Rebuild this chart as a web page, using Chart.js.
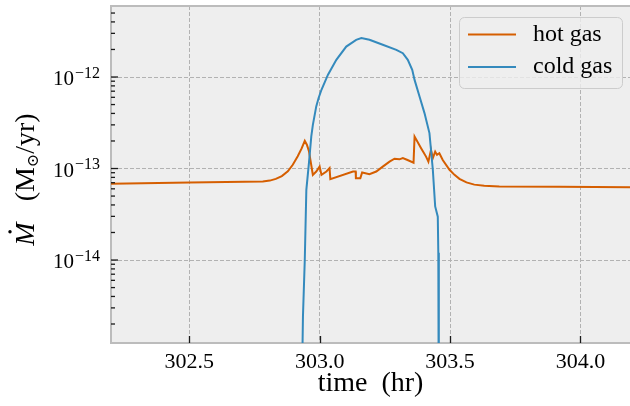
<!DOCTYPE html>
<html>
<head>
<meta charset="utf-8">
<script src="https://cdn.jsdelivr.net/npm/chart.js@4.4.1/dist/chart.umd.min.js"></script>
<style>
  html, body { margin: 0; padding: 0; background: #fff; overflow: hidden; }
</style>
</head>
<body>
<canvas id="chart" width="630" height="406"></canvas>
<script>
// ===== DATA =====
const seriesNames = ['hot gas', 'cold gas']

const hotTime = [302.200, 302.502, 302.782, 302.809, 302.832, 302.855, 302.878, 302.897, 302.916, 302.931,
  302.943, 302.951, 302.959, 302.974, 302.987, 303.000, 303.007, 303.026, 303.038, 303.041,
  303.128, 303.138, 303.139, 303.156, 303.163, 303.191, 303.217, 303.242, 303.268, 303.287,
  303.306, 303.319, 303.337, 303.360, 303.364, 303.389, 303.408, 303.417, 303.427, 303.434,
  303.443, 303.450, 303.459, 303.472, 303.498, 303.517, 303.536, 303.563, 303.593, 303.631,
  303.689, 303.918, 304.190]
const hotRate = [6.81e-14, 7.03e-14, 7.21e-14, 7.38e-14, 7.71e-14, 8.26e-14, 9.31e-14, 1.10e-13, 1.36e-13, 1.66e-13,
  2.01e-13, 1.82e-13, 1.55e-13, 8.53e-14, 9.27e-14, 1.05e-13, 8.53e-14, 9.27e-14, 1.01e-13, 7.66e-14,
  9.27e-14, 9.27e-14, 7.85e-14, 7.85e-14, 9.04e-14, 8.69e-14, 9.27e-14, 1.05e-13, 1.19e-13, 1.28e-13,
  1.26e-13, 1.30e-13, 1.24e-13, 1.16e-13, 2.24e-13, 1.67e-13, 1.35e-13, 1.19e-13, 1.60e-13, 1.30e-13,
  1.53e-13, 1.41e-13, 1.47e-13, 1.24e-13, 9.68e-14, 8.53e-14, 7.71e-14, 7.06e-14, 6.67e-14, 6.47e-14,
  6.35e-14, 6.31e-14, 6.24e-14]

const coldTime = [302.929, 302.936, 302.943, 302.949, 302.959, 302.968, 302.974, 302.987, 302.996, 303.007,
  303.032, 303.064, 303.102, 303.140, 303.160, 303.191, 303.242, 303.294, 303.319, 303.338,
  303.355, 303.364, 303.383, 303.402, 303.421, 303.434, 303.443, 303.453, 303.455, 303.457]
const coldRate = [1e-16, 2.41e-15, 1.0e-14, 5.85e-14, 1.15e-13, 2.24e-13, 3.0e-13, 4.77e-13, 5.9e-13, 7.25e-13,
  1.06e-12, 1.54e-12, 2.15e-12, 2.55e-12, 2.66e-12, 2.55e-12, 2.25e-12, 1.98e-12, 1.82e-12, 1.54e-12,
  1.20e-12, 9.3e-13, 6.12e-13, 4.03e-13, 2.44e-13, 9.7e-14, 3.85e-14, 2.98e-14, 1.2e-14, 1e-16]

const xTicks = [302.5, 303.0, 303.5, 304.0]
const yDecades = [-14, -13, -12]
const xRange = [302.2, 304.19]
const yRange = [1.24e-15, 5.97e-12]

// ===== STYLE =====
const C = {
  hot: '#D55E00',
  cold: '#348ABD',
  face: '#EEEEEE',
  edge: '#BCBCBC',
  grid: '#B2B2B2',
  tick: '#1a1a1a',
  text: '#000000',
}
const SERIF = '"Liberation Serif", "DejaVu Serif", serif'

const toXY = (xs, ys) => xs.map((x, i) => ({ x, y: ys[i] }))

// plot face + top spine
const facePlugin = {
  id: 'face',
  beforeDraw(chart) {
    const { ctx, chartArea: a } = chart
    ctx.save()
    ctx.fillStyle = C.face
    ctx.fillRect(a.left, a.top, a.right - a.left, a.bottom - a.top)
    ctx.restore()
  },
  afterDatasetsDraw(chart) {
    const { ctx, chartArea: a } = chart
    ctx.save()
    ctx.strokeStyle = C.edge
    ctx.lineWidth = 2
    ctx.beginPath()
    ctx.moveTo(a.left - 1, a.top)
    ctx.lineTo(a.right, a.top)
    ctx.stroke()
    ctx.restore()
  }
}

// inward ticks, y tick labels (10^n), y title, legend
const decorPlugin = {
  id: 'decor',
  afterDraw(chart) {
    const { ctx, chartArea: a, scales: { x, y } } = chart
    ctx.save()
    ctx.strokeStyle = C.tick
    ctx.lineWidth = 1.3
    // x major ticks
    xTicks.forEach(v => {
      const px = Math.round(x.getPixelForValue(v)) + 0.5
      ctx.beginPath(); ctx.moveTo(px, a.bottom); ctx.lineTo(px, a.bottom - 7); ctx.stroke()
    })
    // y major + minor ticks
    for (let e = -16; e <= -11; e++) {
      for (let m = 1; m <= 9; m++) {
        const v = m * Math.pow(10, e)
        if (v < yRange[0] || v > yRange[1]) continue
        const py = y.getPixelForValue(v)
        ctx.beginPath(); ctx.moveTo(a.left, py); ctx.lineTo(a.left + (m === 1 ? 7 : 4), py); ctx.stroke()
      }
    }
    // y tick labels
    ctx.fillStyle = C.text
    ctx.textAlign = 'right'
    ctx.textBaseline = 'alphabetic'
    yDecades.forEach(e => {
      const py = y.getPixelForValue(Math.pow(10, e))
      const exp = '\u2212' + Math.abs(e)
      ctx.font = '16px ' + SERIF
      const ew = ctx.measureText(exp).width
      ctx.fillText(exp, a.left - 11, py + 0.5)
      ctx.font = '21px ' + SERIF
      ctx.fillText('10', a.left - 11 - ew - 1, py + 8)
    })
    // y title
    const parts = [
      { t: 'M', f: 'italic 28px ' + SERIF, dy: 0, gap: 0 },
      { t: '(M', f: '28px ' + SERIF, dy: 0, gap: 21 },
      { t: '\u2299', f: '16px "DejaVu Serif", serif', dy: 4, gap: 0 },
      { t: '/yr)', f: '28px ' + SERIF, dy: 0, gap: 0 },
    ]
    let total = 0
    parts.forEach(p => { ctx.font = p.f; p.w = ctx.measureText(p.t).width; total += p.gap + p.w })
    ctx.translate(34, (a.top + a.bottom) / 2 + 5 + total / 2)
    ctx.rotate(-Math.PI / 2)
    ctx.textAlign = 'left'
    let cx = 0
    parts.forEach((p, i) => {
      cx += p.gap
      ctx.font = p.f
      ctx.fillText(p.t, cx, p.dy)
      if (i === 0) { // time-derivative dot over the M
        ctx.beginPath(); ctx.arc(cx + p.w * 0.6, -24, 1.7, 0, Math.PI * 2); ctx.fill()
      }
      cx += p.w
    })
    ctx.setTransform(1, 0, 0, 1, 0, 0)

    // legend
    const lx = a.right - 171, ly = a.top + 11, lw = 163, lh = 71
    ctx.fillStyle = 'rgba(238,238,238,0.8)'
    ctx.strokeStyle = '#CCCCCC'
    ctx.lineWidth = 1
    ctx.beginPath(); ctx.roundRect(lx + 0.5, ly + 0.5, lw, lh, 5); ctx.fill(); ctx.stroke()
    const colors = [C.hot, C.cold]
    seriesNames.forEach((name, i) => {
      const yy = ly + 17.5 + i * 32.5
      ctx.strokeStyle = colors[i]; ctx.lineWidth = 2
      ctx.beginPath(); ctx.moveTo(lx + 9, yy); ctx.lineTo(lx + 57, yy); ctx.stroke()
      ctx.fillStyle = C.text
      ctx.font = '24px ' + SERIF
      ctx.textBaseline = 'middle'
      ctx.fillText(name, lx + 74, yy)
    })
    ctx.restore()
  }
}

new Chart(document.getElementById('chart'), {
  type: 'line',
  data: {
    datasets: [
      { label: seriesNames[0], data: toXY(hotTime, hotRate), borderColor: C.hot, borderWidth: 2, order: 2 },
      { label: seriesNames[1], data: toXY(coldTime, coldRate), borderColor: C.cold, borderWidth: 2, order: 1 },
    ]
  },
  options: {
    responsive: false, animation: false, devicePixelRatio: 1,
    layout: { padding: { top: 6, right: 0, left: 0, bottom: 0 } },
    elements: { point: { radius: 0 }, line: { tension: 0 } },
    plugins: { legend: { display: false }, tooltip: { enabled: false } },
    scales: {
      x: {
        type: 'linear', min: xRange[0], max: xRange[1],
        afterBuildTicks: s => { s.ticks = xTicks.map(v => ({ value: v })) },
        afterFit: s => { s.height = 63 },
        grid: { color: C.grid, lineWidth: 1, drawTicks: false },
        border: { color: C.edge, width: 2, dash: [4, 2] },
        ticks: { color: C.text, font: { family: SERIF, size: 22 }, padding: 6, maxRotation: 0, autoSkip: false,
          callback: v => Number(v).toFixed(1) },
        title: { display: true, text: 'time  (hr)', color: C.text, font: { family: SERIF, size: 28 }, padding: { top: 0, bottom: 6 } }
      },
      y: {
        type: 'logarithmic', min: yRange[0], max: yRange[1],
        afterBuildTicks: s => { s.ticks = yDecades.map(e => ({ value: Math.pow(10, e) })) },
        afterFit: s => { s.width = 111 },
        grid: { color: C.grid, lineWidth: 1, drawTicks: false },
        border: { color: C.edge, width: 2, dash: [4, 2] },
        ticks: { display: false }
      }
    }
  },
  plugins: [facePlugin, decorPlugin]
})
</script>
</body>
</html>
